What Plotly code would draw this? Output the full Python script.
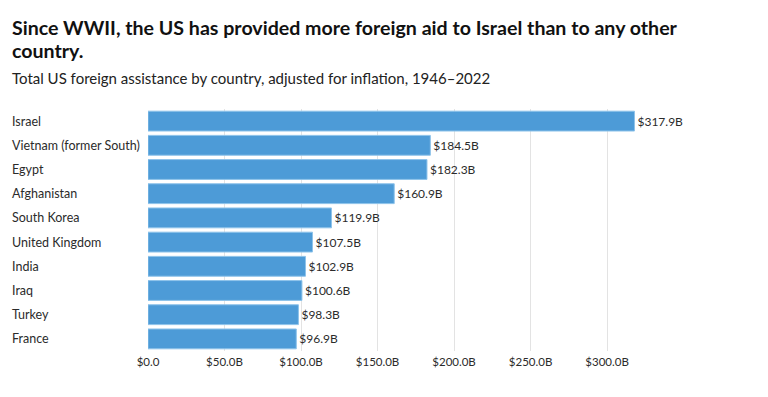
import plotly.graph_objects as go

countries = ["Israel", "Vietnam (former South)", "Egypt", "Afghanistan", "South Korea",
             "United Kingdom", "India", "Iraq", "Turkey", "France"]
values = [317.9, 184.5, 182.3, 160.9, 119.9, 107.5, 102.9, 100.6, 98.3, 96.9]
value_labels = [f"${v:.1f}B" for v in values]
tick_vals = [0, 50, 100, 150, 200, 250, 300]
tick_text = ["$0.0", "$50.0B", "$100.0B", "$150.0B", "$200.0B", "$250.0B", "$300.0B"]

title_lines = ["Since WWII, the US has provided more foreign aid to Israel than to any other",
               "country."]
subtitle = "Total US foreign assistance by country, adjusted for inflation, 1946–2022"

FONT = "Source Sans Pro, Lato, Roboto, sans-serif"
OFF = 8  # default page body margin
W, H = 768 - OFF, 397 - OFF
ML, MR, MT, MB = 148 - OFF, 115, 109 - OFF, 46
plot_w = W - ML - MR
plot_h = H - MT - MB

def px_x(p):
    return (p - OFF - ML) / plot_w

def px_y(p):
    return 1 + (MT - (p - OFF)) / plot_h

fig = go.Figure()
fig.add_trace(go.Bar(
    x=values, y=countries, orientation="h",
    marker=dict(color="#4d9bd7", line=dict(color="#8ec3ea", width=1)),
    text=value_labels, textposition="outside", cliponaxis=False,
    textfont=dict(size=12, color="#2b2b2b", family=FONT),
    width=0.82, hoverinfo="skip",
))

annotations = []
for i, line in enumerate(title_lines):
    annotations.append(dict(text="<b>" + line + "</b>", xref="paper", yref="paper",
                            x=px_x(10), y=px_y(27 + 23 * i), xanchor="left", yanchor="middle",
                            showarrow=False, align="left",
                            font=dict(size=19.6, color="#111111", family=FONT)))
annotations.append(dict(text=subtitle, xref="paper", yref="paper",
                        x=px_x(10), y=px_y(78), xanchor="left", yanchor="middle",
                        showarrow=False, align="left",
                        font=dict(size=15, color="#222222", family=FONT)))
for c in countries:
    annotations.append(dict(text=c, xref="paper", yref="y", x=px_x(10), y=c,
                            xanchor="left", yanchor="middle", showarrow=False,
                            font=dict(size=12.5, color="#2b2b2b", family=FONT)))

fig.update_layout(
    width=W, height=H,
    margin=dict(l=ML, r=MR, t=MT, b=MB),
    paper_bgcolor="white", plot_bgcolor="white",
    showlegend=False,
    font=dict(family=FONT, color="#2b2b2b"),
    annotations=annotations,
    xaxis=dict(range=[0, 330], tickvals=tick_vals, ticktext=tick_text,
               showgrid=True, gridcolor="#e3e3e3", gridwidth=1, zeroline=False,
               showline=False, ticks="", tickfont=dict(size=11.5, color="#2b2b2b"),
               ticklabelstandoff=2, fixedrange=True),
    yaxis=dict(categoryorder="array", categoryarray=countries[::-1],
               showticklabels=False, showgrid=False, zeroline=False, showline=False,
               ticks="", range=[-0.5, 9.5], fixedrange=True),
)

fig.write_html("out.html")
